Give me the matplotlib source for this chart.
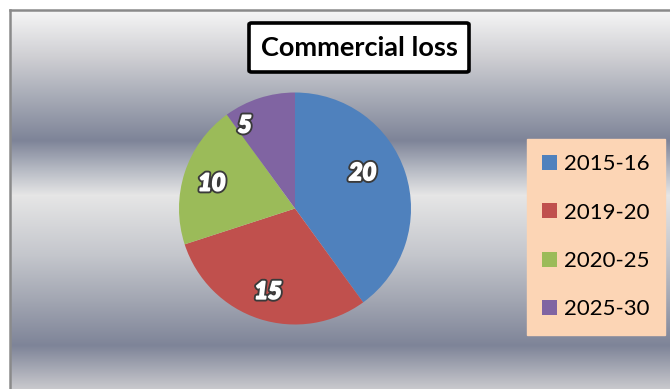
import numpy as np
import matplotlib
matplotlib.use("Agg")
import matplotlib.pyplot as plt
import matplotlib.patheffects as pe
from matplotlib.patches import FancyBboxPatch
from matplotlib.colors import to_rgb

# ---- data ----
categories = ["2015-16", "2019-20", "2020-25", "2025-30"]
values = [20, 15, 10, 5]
title = "Commercial loss"

# ---- style ----
colors = ["#4F81BD", "#C0504D", "#9BBB59", "#8064A2"]
legend_bg = "#FCD5B5"
W, H = 670, 389
fig = plt.figure(figsize=(W / 100, H / 100), dpi=100)
fig.patch.set_facecolor("white")

# background chart area with metallic gradient
x0, ytop = 10, 10
bg_ax = fig.add_axes([x0 / W, 0, (W - x0) / W, (H - ytop) / H])
bg_ax.set_axis_off()
stops = [(10, "#f6f6f6"), (55, "#d0d0d4"), (100, "#a4a8b4"), (140, "#7e8498"),
         (168, "#b4b8c2"), (195, "#e6e6e6"), (255, "#c4c6cc"), (300, "#a2a6b2"),
         (345, "#7e8498"), (389, "#cacace")]
ys = np.arange(ytop, H)
sy = [s[0] for s in stops]
cols = np.array([to_rgb(s[1]) for s in stops])
grad = np.stack([np.interp(ys, sy, cols[:, i]) for i in range(3)], axis=-1)
bg_ax.imshow(grad[:, None, :], aspect="auto", extent=[0, 1, 0, 1], origin="upper")
bg_ax.set_xlim(0, 1)
bg_ax.set_ylim(0, 1)
fig.add_artist(plt.Line2D([x0 / W, x0 / W], [0, 1 - ytop / H], color="#8a8a8a", lw=1.8,
                          transform=fig.transFigure))
fig.add_artist(plt.Line2D([x0 / W, 1], [1 - ytop / H, 1 - ytop / H], color="#8a8a8a", lw=1.8,
                          transform=fig.transFigure))

# ---- pie ----
cx, cy, r = 295, 208.5, 116
ax = fig.add_axes([(cx - r) / W, (H - cy - r) / H, 2 * r / W, 2 * r / H])
ax.set_axis_off()
wedges, texts = ax.pie(values, colors=colors, startangle=90, counterclock=False,
                       labels=[str(v) for v in values], labeldistance=0.75,
                       wedgeprops=dict(linewidth=0))
ax.set_xlim(-1, 1)
ax.set_ylim(-1, 1)
ax.set_aspect("equal")

label_r = [0.66, 0.75, 0.75, 0.84]
label_dang = [10, 0, 1, 13]
for w, t, lr, da in zip(wedges, texts, label_r, label_dang):
    ang = np.deg2rad((w.theta1 + w.theta2) / 2 + da)
    t.set_position((lr * np.cos(ang), lr * np.sin(ang)))
    t.set_ha("center")
    t.set_va("center")
    t.set_color("white")
    t.set_fontsize(17)
    t.set_fontweight("black")
    t.set_style("italic")
    t.set_family("Lato")
    t.set_path_effects([pe.Stroke(linewidth=4.0, foreground="#3a3a3a"),
                        pe.Stroke(linewidth=1.3, foreground="white"),
                        pe.Normal()])

# ---- title ----
bx0, by0, bx1, by1 = 249, 23, 469, 72
fig.add_artist(FancyBboxPatch((bx0 / W, 1 - by1 / H), (bx1 - bx0) / W, (by1 - by0) / H,
                              boxstyle="round,pad=0,rounding_size=0.004",
                              transform=fig.transFigure, facecolor="white",
                              edgecolor="black", linewidth=2.6))
fig.text((bx0 + bx1) / 2 / W, 1 - (by0 + by1) / 2 / H, title, ha="center", va="center",
         fontsize=19.5, fontweight="bold", family="Lato", color="black")

# ---- legend ----
leg = fig.legend(wedges, categories, loc="upper left",
                 bbox_to_anchor=(527 / W, 1 - 139 / H), bbox_transform=fig.transFigure,
                 frameon=True, fancybox=False, facecolor=legend_bg, edgecolor=legend_bg,
                 framealpha=1, borderpad=0.68, labelspacing=1.28, handlelength=0.68,
                 handleheight=0.68, handletextpad=0.3, borderaxespad=0,
                 prop=dict(family="Lato", size=16))
leg._legend_box.sep = 0
for txt in leg.get_texts():
    txt.set_color("black")

fig.savefig("out.png", dpi=100)
